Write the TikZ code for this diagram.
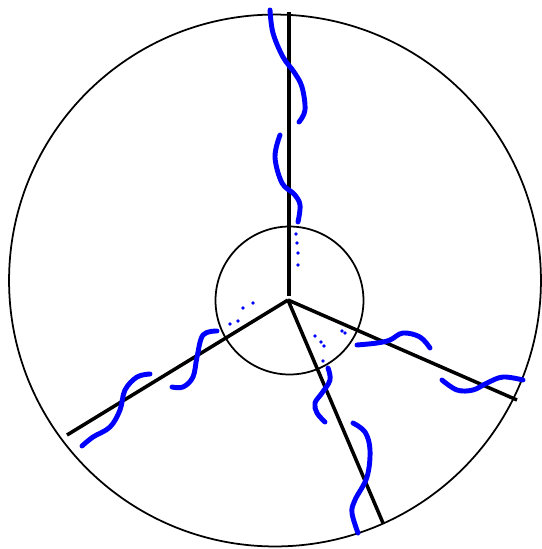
\documentclass[tikz,border=0pt]{standalone}
\begin{document}
\begin{tikzpicture}[x=0.02cm, y=-0.02cm,
    arm/.style={line width=2pt, black},
    rim/.style={line width=1pt, black},
    wave/.style={line width=2.8pt, blue, line cap=round, line join=round},
    dot/.style={fill=blue}]
    \useasboundingbox (0,0) rectangle (542,549);

    % Circulos
    \draw[rim] (275,280.5) circle[radius=5.32cm];
    \draw[rim] (289.5,300.5) circle[radius=1.48cm];

    % Centro y extremos de los brazos
    \coordinate (O) at (288,300);
    \coordinate (up) at (289,12);
    \coordinate (ll) at (67,435);
    \coordinate (lr) at (517,400);
    \coordinate (dn) at (383,523);

    % Brazos
    \draw[arm] (289,296) -- (up);
    \draw[arm] (O) -- (ll);
    \draw[arm] (O) -- (lr);
    \draw[arm] (O) -- (dn);

    % Ondas del brazo superior
    \draw[wave] plot[smooth, tension=0.6] coordinates {(270,10) (273,33) (283,57) (294,72) (302,87) (305,110) (299,122)};
    \draw[wave] plot[smooth, tension=0.6] coordinates {(280,135) (275,157) (282,183) (294,194) (300,205) (298,222)};
    \foreach \p in {(296,234),(297,243),(298,253),(298,265)}
        \fill[dot] \p circle[radius=1.1pt];

    % Ondas del brazo izquierdo
    \draw[wave] plot[smooth, tension=0.6] coordinates {(217,331) (203,335) (197,357) (193,377) (183,387) (172,387)};
    \draw[wave] plot[smooth, tension=0.6] coordinates {(150,374) (137,377) (125,390) (120,410) (110,427) (93,437) (82,446)};
    \foreach \p in {(253,303),(243,308),(238,321),(230,324)}
        \fill[dot] \p circle[radius=1.1pt];

    % Ondas del brazo derecho
    \draw[wave] plot[smooth, tension=0.6] coordinates {(357,345) (377,343) (390,340) (403,333) (420,337) (430,348)};
    \draw[wave] plot[smooth, tension=0.6] coordinates {(442,380) (457,390) (473,390) (487,383) (503,377) (523,380)};
    \foreach \p in {(342,331),(345,333),(315,336),(321,342),(324,346),(323,361)}
        \fill[dot] \p circle[radius=1.1pt];

    % Ondas del brazo inferior
    \draw[wave] plot[smooth, tension=0.6] coordinates {(328,368) (330,380) (322,393) (315,403) (317,413) (325,422)};
    \draw[wave] plot[smooth, tension=0.6] coordinates {(353,423) (365,432) (370,450) (367,477) (355,500) (352,513) (358,533)};
\end{tikzpicture}
\end{document}
